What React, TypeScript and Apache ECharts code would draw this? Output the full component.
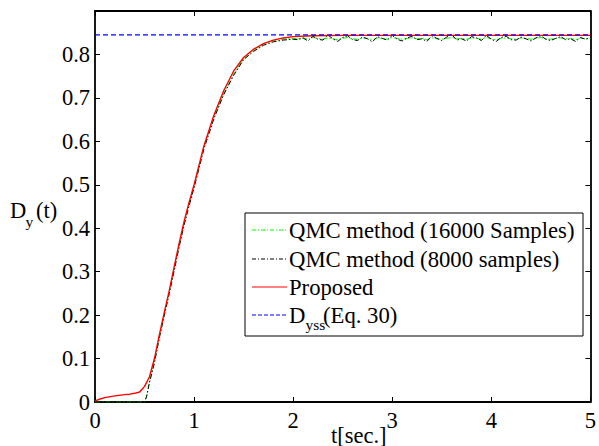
import React, { useEffect, useRef } from "react";
import * as echarts from "echarts";

// ---- data ----
const tRise = [0, 0.5, 0.52, 0.55, 0.6, 0.65, 0.7, 0.75, 0.8, 0.85, 0.9, 0.95, 1.0, 1.1, 1.2, 1.3, 1.4, 1.5, 1.6, 1.7, 1.8, 1.9, 2.0];
const qmc16Rise = [0, 0, 0.012, 0.046, 0.092, 0.15, 0.202, 0.252, 0.306, 0.36, 0.41, 0.455, 0.496, 0.586, 0.655, 0.71, 0.755, 0.79, 0.809, 0.823, 0.831, 0.835, 0.837];
const qmc8Rise = [0, 0, 0.012, 0.045, 0.09, 0.148, 0.2, 0.25, 0.303, 0.358, 0.408, 0.452, 0.493, 0.583, 0.652, 0.708, 0.752, 0.788, 0.807, 0.821, 0.829, 0.833, 0.835];

const tSteady = [
  2.05, 2.1, 2.15, 2.2, 2.25, 2.3, 2.35, 2.4, 2.45, 2.5,
  2.55, 2.6, 2.65, 2.7, 2.75, 2.8, 2.85, 2.9, 2.95, 3.0,
  3.05, 3.1, 3.15, 3.2, 3.25, 3.3, 3.35, 3.4, 3.45, 3.5,
  3.55, 3.6, 3.65, 3.7, 3.75, 3.8, 3.85, 3.9, 3.95, 4.0,
  4.05, 4.1, 4.15, 4.2, 4.25, 4.3, 4.35, 4.4, 4.45, 4.5,
  4.55, 4.6, 4.65, 4.7, 4.75, 4.8, 4.85, 4.9, 4.95, 5.0,
];
const qmc16Steady = [
  0.836, 0.838, 0.835, 0.839, 0.837, 0.835, 0.838, 0.836, 0.834, 0.837,
  0.839, 0.836, 0.835, 0.838, 0.837, 0.834, 0.838, 0.836, 0.835, 0.839,
  0.837, 0.835, 0.837, 0.838, 0.836, 0.837, 0.834, 0.838, 0.836, 0.835,
  0.837, 0.839, 0.836, 0.837, 0.835, 0.838, 0.837, 0.835, 0.839, 0.836,
  0.834, 0.837, 0.838, 0.836, 0.835, 0.838, 0.837, 0.835, 0.837, 0.839,
  0.836, 0.835, 0.837, 0.838, 0.836, 0.837, 0.834, 0.838, 0.836, 0.837,
];
const qmc8Steady = [
  0.834, 0.838, 0.831, 0.842, 0.835, 0.833, 0.845, 0.836, 0.83, 0.839,
  0.843, 0.834, 0.832, 0.84, 0.836, 0.829, 0.841, 0.837, 0.833, 0.844,
  0.835, 0.831, 0.838, 0.842, 0.834, 0.836, 0.83, 0.843, 0.837, 0.832,
  0.84, 0.846, 0.833, 0.836, 0.831, 0.841, 0.838, 0.832, 0.844, 0.835,
  0.83, 0.839, 0.842, 0.834, 0.833, 0.84, 0.836, 0.831, 0.838, 0.843,
  0.835, 0.832, 0.837, 0.841, 0.834, 0.836, 0.83, 0.839, 0.835, 0.838,
];

const tProposed = [0, 0.05, 0.1, 0.2, 0.3, 0.35, 0.4, 0.45, 0.5, 0.55, 0.6, 0.65, 0.7, 0.75, 0.8, 0.85, 0.9, 0.95, 1.0, 1.1, 1.2, 1.3, 1.4, 1.5, 1.6, 1.7, 1.8, 1.9, 2.0, 2.2, 2.5, 3.0, 3.5, 4.0, 4.5, 5.0];
const proposed = [0.002, 0.007, 0.01, 0.014, 0.017, 0.018, 0.02, 0.023, 0.036, 0.058, 0.1, 0.155, 0.207, 0.257, 0.312, 0.366, 0.416, 0.46, 0.5, 0.59, 0.66, 0.717, 0.762, 0.793, 0.812, 0.825, 0.833, 0.838, 0.841, 0.843, 0.844, 0.844, 0.844, 0.844, 0.844, 0.844];

const tDyss = [0, 5];
const dyssValue = [0.845, 0.845];

const legendLabels = ["QMC method (16000 Samples)", "QMC method (8000 samples)", "Proposed"];

const FONT = "'Liberation Serif', 'Times New Roman', Times, serif";

export default function App() {
  const ref = useRef<HTMLDivElement>(null);
  useEffect(() => {
    const chart = echarts.init(ref.current!, null, { renderer: "svg" });
    const pairs = (ts: number[], vs: number[]) => ts.map((t, i) => [t, vs[i]]);
    const q16 = [...pairs(tRise, qmc16Rise), ...pairs(tSteady, qmc16Steady)];
    const q8 = [...pairs(tRise, qmc8Rise), ...pairs(tSteady, qmc8Steady)];
    const prop = pairs(tProposed, proposed);
    const dy = pairs(tDyss, dyssValue);

    const axisLine = { show: true, onZero: false, lineStyle: { color: "#000", width: 1.8 } };
    const axisTick = { show: true, inside: true, length: 5, lineStyle: { color: "#000", width: 1 } };
    const labelStyle = { color: "#000", fontFamily: FONT, fontSize: 22.5 };

    const rowY = [230, 259, 287, 315];
    const legendX = 245;
    const lineX1 = 252;
    const lineX2 = 287;
    const textX = 289;
    const legendColors = ["#00ff00", "#000000", "#ff0000", "#0000ff"];
    const legendDash: any[] = [[4, 2, 1, 2], [4, 2, 1, 2], null, [4, 2]];
    const LF = `22.7px ${FONT}`;

    const graphic: any[] = [
      {
        type: "rect",
        z: 100,
        shape: { x: legendX, y: 213, width: 338, height: 123 },
        style: { fill: "#fff", stroke: "#000", lineWidth: 1 },
      },
    ];
    rowY.forEach((cy, i) => {
      graphic.push({
        type: "line",
        z: 101,
        shape: { x1: lineX1, y1: cy, x2: lineX2, y2: cy },
        style: { stroke: legendColors[i], lineWidth: 1, lineDash: legendDash[i] || undefined },
      });
    });
    legendLabels.forEach((txt, i) => {
      graphic.push({
        type: "text",
        z: 101,
        x: textX,
        y: rowY[i],
        style: { text: txt, fill: "#000", font: LF, textVerticalAlign: "middle", verticalAlign: "middle" },
      });
    });
    // D_yss(Eq. 30)
    graphic.push(
      { type: "text", z: 101, x: textX, y: rowY[3], style: { text: "D", fill: "#000", font: LF, textVerticalAlign: "middle", verticalAlign: "middle" } },
      { type: "text", z: 101, x: textX + 16.5, y: rowY[3] + 9, style: { text: "yss", fill: "#000", font: `15.5px ${FONT}`, textVerticalAlign: "middle", verticalAlign: "middle" } },
      { type: "text", z: 101, x: textX + 34, y: rowY[3], style: { text: "(Eq. 30)", fill: "#000", font: LF, textVerticalAlign: "middle", verticalAlign: "middle" } }
    );
    // y axis name D_y(t)
    graphic.push(
      { type: "text", x: 10, y: 210, style: { text: "D", fill: "#000", font: `22.5px ${FONT}`, textVerticalAlign: "middle", verticalAlign: "middle" } },
      { type: "text", x: 25.5, y: 221, style: { text: "y", fill: "#000", font: `15.5px ${FONT}`, textVerticalAlign: "middle", verticalAlign: "middle" } },
      { type: "text", x: 36, y: 210, style: { text: "(t)", fill: "#000", font: `22.5px ${FONT}`, textVerticalAlign: "middle", verticalAlign: "middle" } }
    );
    // x axis name
    graphic.push({
      type: "text",
      x: 331,
      y: 435,
      style: { text: "t[sec.]", fill: "#000", font: `22.5px ${FONT}`, textVerticalAlign: "middle", verticalAlign: "middle" },
    });

    chart.setOption({
      animation: false,
      backgroundColor: "#fff",
      grid: { left: 95, right: 4, top: 11, bottom: 44, containLabel: false },
      xAxis: [
        {
          type: "value", min: 0, max: 5, interval: 1, position: "bottom",
          axisLine, axisTick, splitLine: { show: false },
          axisLabel: { ...labelStyle, margin: 7 },
        },
        {
          type: "value", min: 0, max: 5, interval: 1, position: "top",
          axisLine, axisTick, splitLine: { show: false }, axisLabel: { show: false },
        },
      ],
      yAxis: [
        {
          type: "value", min: 0, max: 0.9, interval: 0.1, position: "left",
          axisLine, axisTick, splitLine: { show: false },
          axisLabel: {
            ...labelStyle, margin: 5,
            formatter: (v: number) => (v > 0.85 ? "" : String(Math.round(v * 10) / 10)),
          },
        },
        {
          type: "value", min: 0, max: 0.9, interval: 0.1, position: "right",
          axisLine, axisTick, splitLine: { show: false }, axisLabel: { show: false },
        },
      ],
      series: [
        {
          name: legendLabels[0], type: "line", data: q16, showSymbol: false, symbol: "none",
          lineStyle: { color: "#00ff00", width: 1, type: [5, 2, 1.5, 2] },
        },
        {
          name: legendLabels[1], type: "line", data: q8, showSymbol: false, symbol: "none",
          lineStyle: { color: "#000000", width: 1, type: [5, 2, 1.5, 2] },
        },
        {
          name: legendLabels[2], type: "line", data: prop, showSymbol: false, symbol: "none",
          lineStyle: { color: "#ff0000", width: 1.4, type: "solid" },
        },
        {
          name: "Dyss", type: "line", data: dy, showSymbol: false, symbol: "none",
          lineStyle: { color: "#0000ff", width: 1.3, type: [5, 3] },
        },
      ],
      graphic,
    });
    return () => chart.dispose();
  }, []);
  return (
    <div
      ref={ref}
      style={{ position: "absolute", left: 0, top: 0, width: 599, height: 446, background: "#fff" }}
    />
  );
}
